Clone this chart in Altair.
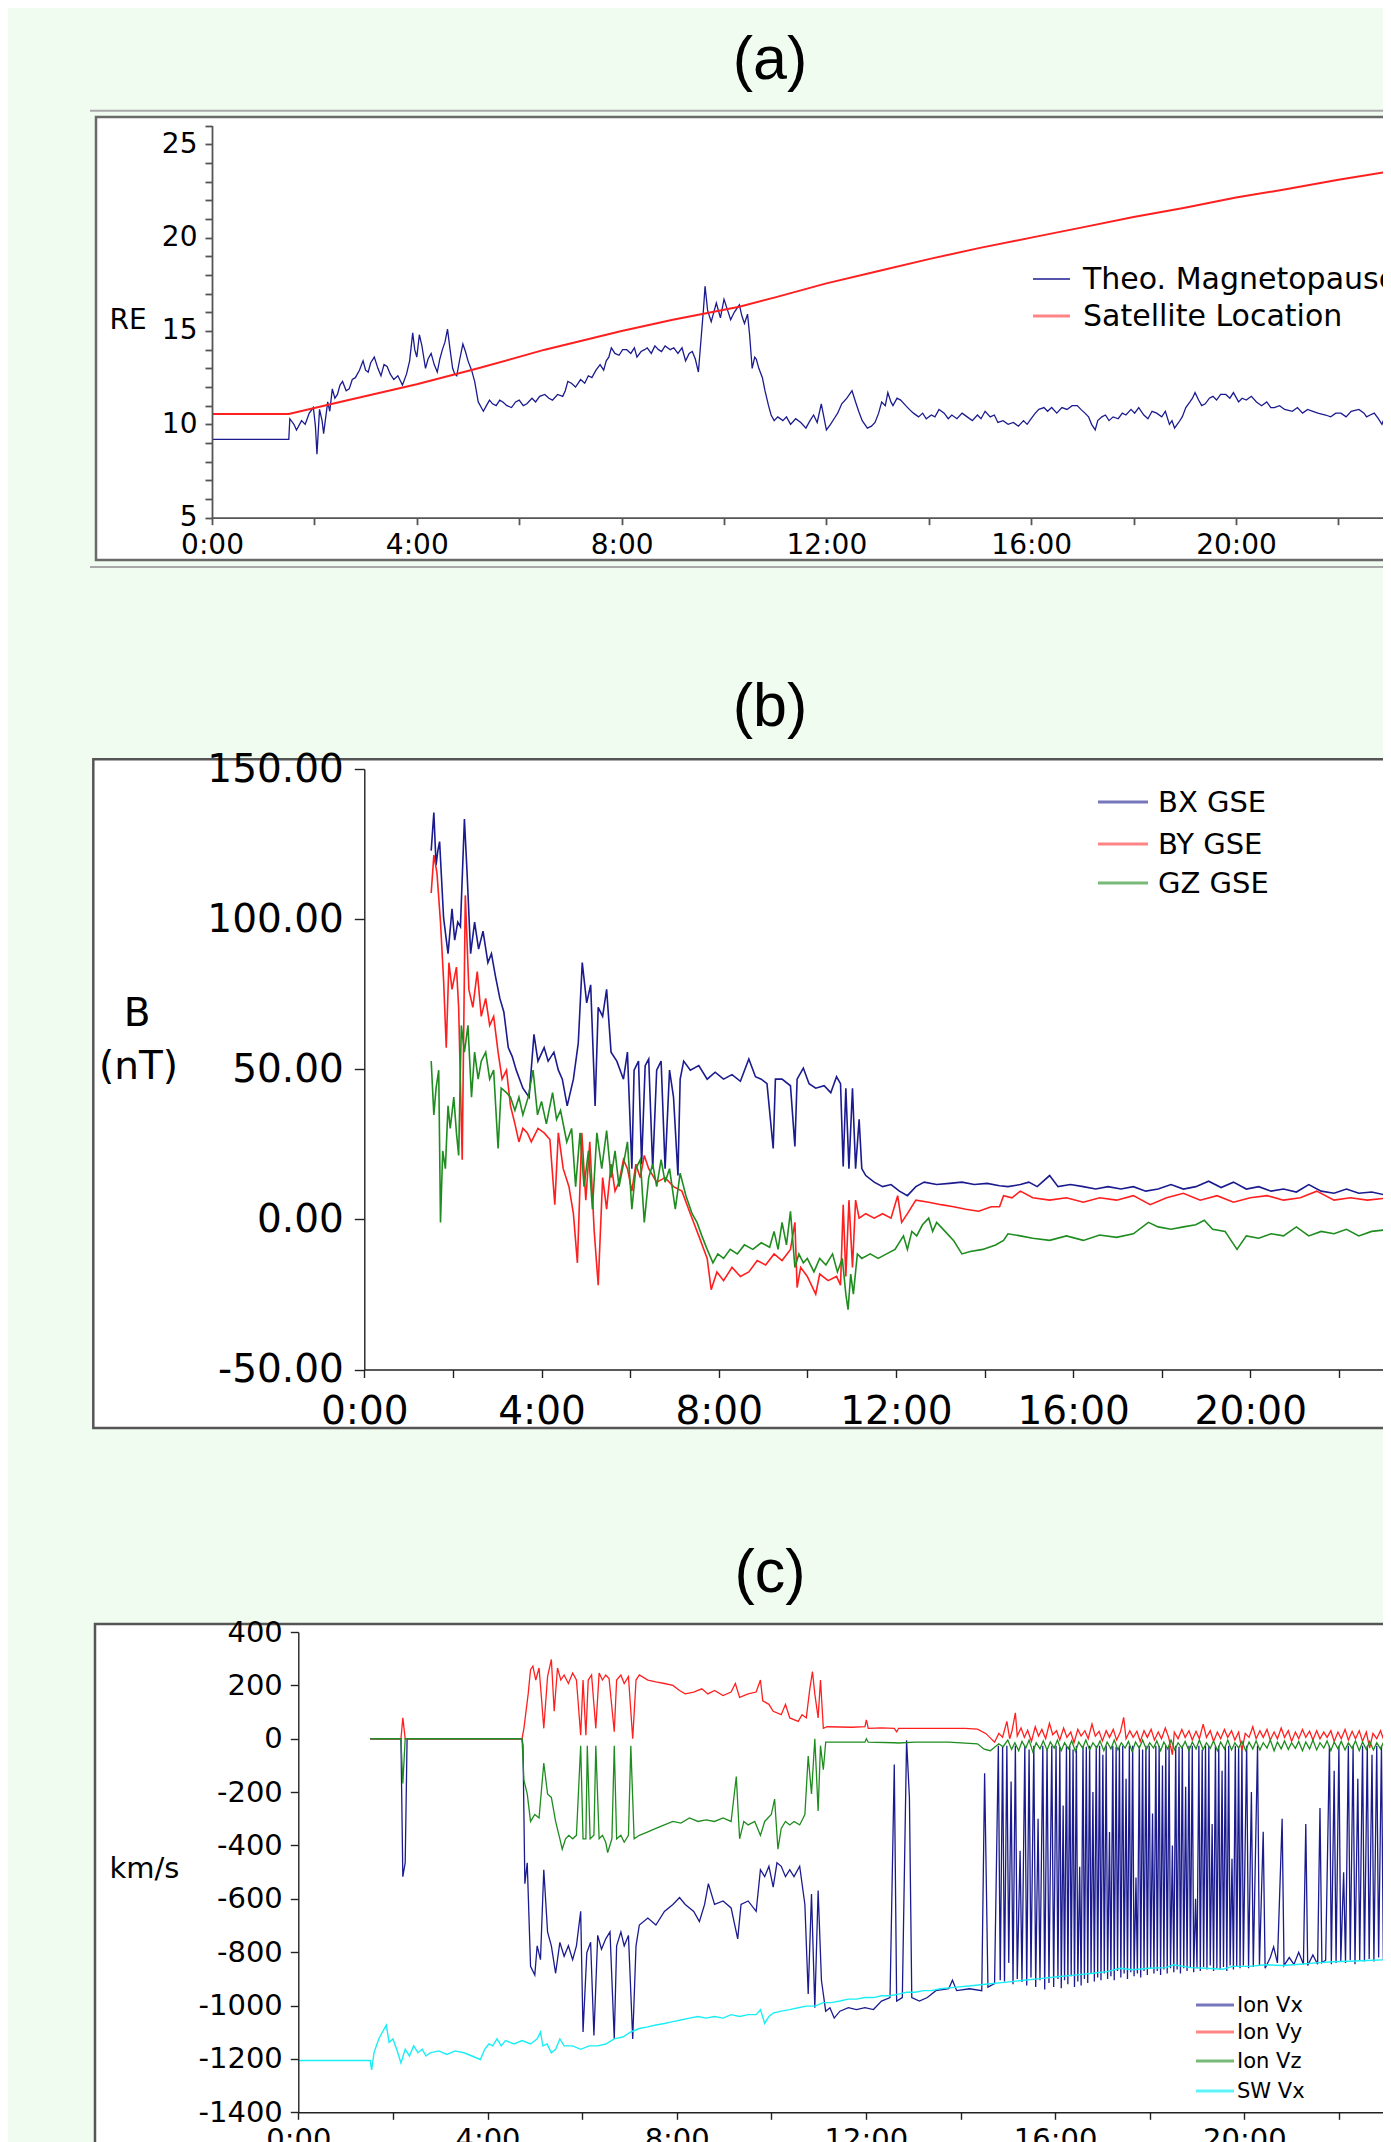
import altair as alt
import pandas as pd

W, H = 1375, 2134
BG = "#f0fcf0"
NAVY = "#1b1b8f"
RED = "#ff1f1f"
GREEN = "#1f8c1f"
CYAN = "#19eef6"
FONT = "DejaVu Sans"

# ---------------- tick values ----------------
X_TICKS = list(range(0, 25, 2))
A_YTICKS = list(range(5, 27))
B_YTICKS = [-50, 0, 50, 100, 150]
C_YTICKS = list(range(-1400, 401, 200))

# ---------------- panel (a): RE vs hours ----------------
A_SAT = [(0, 10.55), (1.5, 10.55), (2.5, 11.2), (4, 12.15), (5.2, 13.0), (6.5, 14.0), (8, 15.0),
         (9, 15.6), (10.3, 16.3), (11, 16.8), (12, 17.55), (13, 18.2), (14, 18.85), (15, 19.45),
         (16, 20.0), (17, 20.55), (18, 21.1), (19, 21.6), (20, 22.15), (21, 22.6), (22, 23.1),
         (23, 23.55), (24, 23.95)]

A_MP = [(0.0, 9.2), (1.5, 9.2), (1.52, 10.3), (1.6, 10.0), (1.65, 9.7), (1.75, 10.2), (1.82, 10.0), (1.9, 10.6),
        (1.98, 10.9), (2.02, 9.9), (2.05, 8.4), (2.1, 10.8), (2.15, 10.2), (2.18, 9.5), (2.26, 11.2), (2.3, 10.7),
        (2.35, 11.9), (2.4, 11.4), (2.45, 11.6), (2.5, 12.1), (2.55, 12.3), (2.62, 11.8), (2.68, 11.9), (2.74, 12.4),
        (2.8, 12.5), (2.88, 12.9), (2.95, 13.4), (3.0, 12.9), (3.05, 12.8), (3.1, 13.3), (3.17, 13.6), (3.24, 13.0),
        (3.3, 12.6), (3.36, 13.2), (3.42, 13.1), (3.48, 12.7), (3.55, 12.4), (3.63, 12.6), (3.72, 12.1), (3.8, 12.7),
        (3.86, 13.4), (3.92, 14.9), (3.96, 14.0), (4.0, 13.6), (4.05, 14.8), (4.1, 14.2), (4.17, 13.0), (4.22, 13.5),
        (4.28, 13.8), (4.34, 13.2), (4.4, 12.8), (4.45, 13.5), (4.5, 14.0), (4.55, 14.4), (4.6, 15.1), (4.65, 14.0),
        (4.7, 13.0), (4.74, 12.7), (4.78, 12.6), (4.84, 13.5), (4.9, 14.3), (4.95, 13.9), (5.0, 13.4), (5.07, 12.9),
        (5.13, 12.3), (5.2, 11.2), (5.26, 10.9), (5.3, 10.7), (5.36, 11.0), (5.42, 11.3), (5.48, 11.1), (5.55, 11.0),
        (5.62, 11.3), (5.68, 11.2), (5.76, 11.0), (5.85, 10.9), (5.93, 11.2), (6.0, 11.3), (6.08, 11.0), (6.15, 11.1),
        (6.25, 11.4), (6.32, 11.2), (6.4, 11.5), (6.5, 11.6), (6.58, 11.4), (6.65, 11.3), (6.75, 11.6), (6.85, 11.5),
        (6.9, 11.8), (6.95, 12.3), (7.02, 12.2), (7.1, 12.0), (7.2, 12.4), (7.28, 12.2), (7.35, 12.6), (7.42, 12.5),
        (7.5, 12.9), (7.58, 13.2), (7.65, 12.9), (7.7, 13.4), (7.75, 13.6), (7.8, 14.1), (7.87, 13.8), (7.95, 13.7),
        (8.02, 14.0), (8.1, 14.0), (8.18, 13.8), (8.25, 14.1), (8.3, 13.6), (8.38, 13.9), (8.45, 14.0), (8.5, 14.1),
        (8.58, 13.8), (8.65, 14.2), (8.72, 14.0), (8.78, 13.9), (8.85, 14.2), (8.95, 14.0), (9.02, 14.1), (9.1, 13.8),
        (9.18, 14.1), (9.25, 13.4), (9.32, 13.8), (9.38, 13.9), (9.44, 13.5), (9.5, 12.8), (9.55, 14.5), (9.6, 16.2),
        (9.63, 17.4), (9.68, 16.1), (9.75, 15.5), (9.8, 16.0), (9.85, 16.5), (9.93, 15.7), (10.0, 16.7), (10.06, 16.2),
        (10.13, 15.6), (10.2, 16.0), (10.3, 16.4), (10.35, 15.8), (10.4, 15.4), (10.46, 15.9), (10.5, 14.8),
        (10.55, 13.0), (10.6, 13.6), (10.63, 13.5), (10.68, 13.0), (10.75, 12.5), (10.8, 11.8), (10.87, 11.0),
        (10.92, 10.5), (10.98, 10.2), (11.05, 10.4), (11.15, 10.2), (11.22, 10.4), (11.3, 10.0), (11.4, 10.3),
        (11.5, 10.1), (11.6, 9.8), (11.68, 10.2), (11.75, 10.5), (11.82, 10.1), (11.9, 11.1), (11.95, 10.4),
        (12.0, 9.7), (12.08, 10.0), (12.15, 10.3), (12.22, 10.6), (12.3, 11.1), (12.4, 11.4), (12.5, 11.8),
        (12.57, 11.2), (12.63, 10.7), (12.7, 10.2), (12.8, 9.8), (12.88, 9.9), (12.95, 10.1), (13.02, 10.6),
        (13.08, 11.2), (13.15, 11.0), (13.2, 11.7), (13.26, 11.2), (13.3, 11.0), (13.38, 11.4), (13.45, 11.3),
        (13.55, 11.0), (13.62, 10.8), (13.7, 10.6), (13.8, 10.4), (13.88, 10.6), (13.95, 10.3), (14.05, 10.5),
        (14.12, 10.4), (14.2, 10.8), (14.3, 10.6), (14.38, 10.3), (14.45, 10.5), (14.55, 10.3), (14.65, 10.6),
        (14.75, 10.4), (14.85, 10.2), (14.95, 10.5), (15.02, 10.3), (15.1, 10.7), (15.2, 10.4), (15.28, 10.5),
        (15.35, 10.1), (15.45, 10.2), (15.55, 10.0), (15.65, 10.1), (15.75, 9.9), (15.85, 10.2), (15.92, 10.0),
        (16.0, 10.3), (16.08, 10.6), (16.15, 10.8), (16.25, 10.9), (16.32, 10.7), (16.4, 10.9), (16.5, 10.6),
        (16.6, 10.9), (16.7, 10.8), (16.8, 11.0), (16.9, 11.0), (16.97, 10.8), (17.05, 10.6), (17.12, 10.4),
        (17.18, 10.0), (17.25, 9.7), (17.3, 10.2), (17.38, 10.4), (17.45, 10.5), (17.52, 10.2), (17.6, 10.4),
        (17.7, 10.3), (17.78, 10.6), (17.85, 10.5), (17.95, 10.8), (18.02, 10.6), (18.1, 10.9), (18.2, 10.5),
        (18.28, 10.3), (18.36, 10.7), (18.45, 10.6), (18.55, 10.4), (18.62, 10.7), (18.7, 10.0), (18.75, 10.2),
        (18.8, 9.8), (18.88, 10.1), (18.95, 10.4), (19.02, 10.9), (19.1, 11.2), (19.15, 11.4), (19.2, 11.7),
        (19.27, 11.3), (19.33, 11.0), (19.4, 11.1), (19.48, 11.4), (19.55, 11.5), (19.62, 11.3), (19.7, 11.6),
        (19.8, 11.6), (19.88, 11.4), (19.95, 11.7), (20.05, 11.2), (20.12, 11.4), (20.2, 11.3), (20.3, 11.5),
        (20.4, 11.2), (20.5, 11.0), (20.6, 11.2), (20.68, 10.9), (20.75, 10.9), (20.85, 11.0), (20.95, 10.8),
        (21.1, 10.7), (21.2, 10.9), (21.3, 10.6), (21.4, 10.8), (21.5, 10.7), (21.6, 10.6), (21.75, 10.5),
        (21.85, 10.4), (21.95, 10.6), (22.05, 10.6), (22.15, 10.4), (22.25, 10.7), (22.4, 10.8), (22.5, 10.6),
        (22.55, 10.4), (22.62, 10.5), (22.7, 10.6), (22.78, 10.3), (22.85, 10.0), (22.92, 10.5), (23.0, 10.8),
        (23.08, 10.6), (23.2, 10.6)]

# ---------------- panel (b): B (nT) ----------------
B_BX = [(1.51, 122.8), (1.57, 135.5), (1.62, 118), (1.66, 122.8), (1.70, 125.8), (1.79, 100.4), (1.89, 88.5),
        (1.98, 103.4), (2.04, 93.0), (2.11, 99), (2.17, 97.5), (2.26, 133.3), (2.32, 115.4), (2.40, 88.5),
        (2.49, 99.0), (2.58, 90.0), (2.68, 96.0), (2.79, 85.5), (2.87, 88.5), (2.96, 81.0), (3.06, 73.6),
        (3.15, 69.1), (3.25, 57.2), (3.34, 54.2), (3.43, 49.7), (3.58, 43.7), (3.72, 40.7), (3.83, 61.6),
        (3.92, 52.7), (4.06, 57.2), (4.15, 52.7), (4.28, 55.7), (4.38, 49.7), (4.47, 46.7), (4.58, 37.8),
        (4.72, 46.7), (4.83, 58.7), (4.92, 85.5), (5.02, 72.1), (5.11, 78.1), (5.21, 37.8), (5.28, 70.6),
        (5.38, 67.6), (5.47, 76.6), (5.57, 55.7), (5.70, 52.7), (5.85, 46.7), (5.94, 55.7), (6.04, 16.9),
        (6.09, 49.7), (6.19, 52.7), (6.26, 18.4), (6.34, 51.2), (6.42, 53.4), (6.51, 16.9), (6.60, 49.7),
        (6.70, 52.7), (6.79, 16.9), (6.89, 49.7), (6.98, 40.7), (7.08, 14.6), (7.13, 46.7), (7.21, 52.7),
        (7.36, 49.7), (7.55, 51.2), (7.74, 46.7), (7.92, 49.0), (8.11, 46.7), (8.30, 48.2), (8.49, 46.0),
        (8.68, 53.4), (8.83, 47.5), (8.96, 46.7), (9.09, 45.2), (9.23, 23.6), (9.28, 46.7), (9.43, 46.7),
        (9.62, 44.5), (9.72, 24.3), (9.77, 46.7), (9.91, 50.4), (10.04, 45.2), (10.19, 43.7), (10.38, 44.5),
        (10.53, 42.2), (10.66, 47.5), (10.75, 45.2), (10.81, 17.6), (10.87, 43.7), (10.94, 16.9), (11.02, 43.7),
        (11.09, 16.9), (11.17, 33.3), (11.23, 16.9), (11.32, 14.6), (11.51, 12.4), (11.70, 10.9), (11.89, 11.6),
        (12.08, 9.4), (12.26, 7.9), (12.45, 10.9), (12.64, 12.4), (12.92, 11.6), (13.21, 12.0), (13.49, 12.4),
        (13.77, 11.6), (14.06, 12.0), (14.34, 11.2), (14.53, 10.9), (14.81, 11.6), (15.0, 12.4), (15.19, 10.9),
        (15.47, 14.6), (15.66, 10.9), (15.94, 11.6), (16.23, 10.9), (16.51, 10.1), (16.79, 10.9), (17.08, 10.1),
        (17.36, 10.9), (17.64, 9.4), (17.92, 10.1), (18.21, 11.6), (18.49, 10.1), (18.77, 10.9), (19.06, 12.7),
        (19.34, 10.6), (19.62, 12.4), (19.91, 10.1), (20.19, 10.9), (20.47, 9.4), (20.75, 10.1), (21.04, 9.1),
        (21.32, 11.6), (21.6, 9.4), (21.89, 8.7), (22.17, 10.1), (22.45, 8.7), (22.74, 9.1), (23.02, 8.2),
        (23.17, 9.1)]

B_BY = [(1.51, 108.7), (1.57, 121.3), (1.64, 115.4), (1.72, 99.0), (1.79, 79.6), (1.85, 57.2), (1.91, 85.5),
        (1.98, 76.6), (2.08, 84.0), (2.13, 70.6), (2.21, 19.9), (2.28, 107.9), (2.36, 76.6), (2.45, 70.6),
        (2.55, 82.5), (2.64, 67.6), (2.74, 73.6), (2.83, 64.6), (2.92, 67.6), (3.02, 55.7), (3.11, 46.7),
        (3.21, 49.7), (3.30, 37.8), (3.40, 31.8), (3.49, 25.8), (3.58, 30.3), (3.68, 28.8), (3.77, 25.8),
        (3.92, 30.3), (4.06, 28.8), (4.19, 26.6), (4.30, 4.9), (4.38, 28.8), (4.49, 16.9), (4.62, 10.9),
        (4.72, 1.9), (4.81, -14.5), (4.91, 28.8), (5.0, 6.4), (5.09, 25.8), (5.19, -4.0), (5.28, -21.9),
        (5.38, 13.9), (5.47, 3.4), (5.57, 18.4), (5.66, 9.4), (5.75, 12.4), (5.85, 19.9), (5.94, 16.9),
        (6.04, 9.4), (6.13, 18.4), (6.23, 13.9), (6.32, 21.3), (6.42, 16.9), (6.60, 12.4), (6.79, 13.9),
        (6.98, 10.9), (7.17, 9.4), (7.36, 1.9), (7.55, -5.5), (7.74, -13.0), (7.83, -23.4), (7.96, -17.5),
        (8.11, -20.4), (8.30, -16.0), (8.49, -19.0), (8.68, -17.5), (8.87, -13.7), (9.06, -15.2), (9.25, -11.5),
        (9.43, -13.7), (9.62, -10.0), (9.72, -1.0), (9.77, -22.7), (9.85, -16.0), (10.0, -19.0), (10.19, -24.9),
        (10.28, -18.2), (10.47, -20.4), (10.66, -19.0), (10.75, -21.9), (10.81, 4.9), (10.87, -19.0),
        (10.94, 6.4), (11.02, -16.0), (11.09, 6.4), (11.17, 0.4), (11.32, 1.9), (11.51, 0.4), (11.70, 1.9),
        (11.89, 0.4), (12.04, 7.9), (12.13, -1.0), (12.26, 1.9), (12.45, 6.4), (12.74, 5.7), (13.02, 4.9),
        (13.30, 4.2), (13.58, 3.4), (13.87, 2.7), (14.15, 4.2), (14.34, 4.2), (14.43, 7.9), (14.62, 7.2),
        (14.81, 9.4), (15.09, 7.2), (15.47, 6.4), (15.85, 7.2), (16.23, 5.7), (16.6, 7.2), (16.98, 6.4),
        (17.36, 7.9), (17.74, 4.9), (18.11, 7.2), (18.49, 8.7), (18.87, 6.4), (19.25, 7.9), (19.62, 5.7),
        (20.0, 7.2), (20.38, 7.9), (20.75, 6.4), (21.13, 7.2), (21.5, 9.4), (21.89, 6.4), (22.26, 7.2),
        (22.64, 6.4), (23.17, 7.2)]

B_GZ = [(1.51, 52.7), (1.57, 34.8), (1.62, 43.7), (1.68, 49.7), (1.72, -1.0), (1.77, 22.8), (1.83, 16.9),
        (1.89, 37.8), (1.94, 30.3), (2.02, 40.7), (2.08, 28.8), (2.13, 21.3), (2.19, 64.6), (2.26, 55.7),
        (2.34, 64.6), (2.42, 40.7), (2.49, 55.7), (2.57, 46.7), (2.64, 52.7), (2.74, 55.7), (2.83, 46.7),
        (2.92, 49.7), (3.02, 23.6), (3.09, 43.7), (3.21, 42.2), (3.30, 40.7), (3.40, 36.3), (3.49, 40.7),
        (3.58, 34.8), (3.70, 40.7), (3.81, 49.7), (3.91, 34.8), (4.0, 39.3), (4.11, 31.8), (4.25, 42.2),
        (4.34, 33.3), (4.43, 36.3), (4.57, 25.8), (4.68, 30.3), (4.77, 10.9), (4.87, 28.8), (4.96, 10.9),
        (5.06, 22.8), (5.15, 3.4), (5.25, 28.8), (5.36, 16.9), (5.47, 29.6), (5.57, 13.9), (5.66, 22.8),
        (5.75, 10.9), (5.85, 18.4), (5.94, 25.8), (6.04, 3.4), (6.13, 16.9), (6.23, 19.9), (6.32, -1.0),
        (6.42, 13.9), (6.51, 18.4), (6.60, 10.9), (6.70, 19.9), (6.79, 12.4), (6.89, 16.9), (7.02, 3.4),
        (7.13, 15.4), (7.26, 7.9), (7.40, 1.9), (7.51, -1.0), (7.62, -5.5), (7.74, -10.0), (7.87, -14.5),
        (7.98, -11.5), (8.11, -13.0), (8.26, -10.0), (8.42, -11.5), (8.58, -8.5), (8.77, -10.0), (8.96, -7.8),
        (9.15, -9.3), (9.25, -4.0), (9.34, -10.0), (9.43, -1.0), (9.53, -8.5), (9.62, 2.7), (9.72, -16.0),
        (9.81, -11.5), (9.91, -14.5), (10.0, -13.0), (10.15, -17.5), (10.28, -13.0), (10.42, -15.2),
        (10.57, -11.5), (10.68, -17.5), (10.79, -13.0), (10.87, -24.9), (10.92, -30.1), (10.98, -18.2),
        (11.04, -24.9), (11.13, -11.5), (11.23, -13.0), (11.42, -11.5), (11.6, -13.0), (11.79, -11.5),
        (11.98, -10.0), (12.17, -5.5), (12.26, -10.0), (12.36, -4.0), (12.47, -5.5), (12.6, -1.8), (12.74, 0.4),
        (12.83, -4.0), (12.92, -1.0), (13.11, -4.0), (13.3, -7.0), (13.49, -11.5), (13.68, -10.7), (13.96, -10.0),
        (14.25, -8.5), (14.43, -7.0), (14.53, -4.8), (14.81, -5.5), (15.09, -6.3), (15.47, -7.0), (15.85, -5.5),
        (16.23, -7.0), (16.6, -5.2), (16.98, -6.0), (17.36, -4.8), (17.7, -1.0), (17.92, -2.5), (18.21, -3.3),
        (18.49, -2.5), (18.77, -1.8), (18.96, -0.3), (19.15, -3.3), (19.43, -4.0), (19.7, -10.0), (19.91, -5.5),
        (20.19, -6.3), (20.47, -4.8), (20.75, -5.5), (21.04, -2.5), (21.32, -5.5), (21.6, -4.0), (21.89, -4.8),
        (22.17, -3.3), (22.45, -5.5), (22.74, -4.0), (23.17, -3.3)]

# ---------------- panel (c): km/s ----------------
C_VX = [(1.52, 0), (2.17, 0), (2.21, -517), (2.26, -465), (2.30, 0), (4.73, 0), (4.75, -26), (4.79, -543),
        (4.84, -465), (4.91, -853), (5.0, -886), (5.05, -776), (5.12, -828), (5.19, -491), (5.27, -724),
        (5.35, -776), (5.44, -879), (5.53, -763), (5.62, -815), (5.71, -776), (5.8, -828), (5.88, -776),
        (5.97, -647), (6.02, -1099), (6.10, -802), (6.18, -763), (6.25, -1112), (6.33, -737), (6.41, -789),
        (6.5, -750), (6.59, -724), (6.68, -1125), (6.73, -776), (6.82, -724), (6.89, -776), (6.98, -737),
        (7.07, -1125), (7.14, -776), (7.21, -698), (7.39, -672), (7.56, -698), (7.74, -647), (7.92, -621),
        (8.06, -595), (8.18, -621), (8.36, -647), (8.48, -685), (8.59, -621), (8.67, -543), (8.8, -621),
        (8.98, -608), (9.15, -634), (9.29, -750), (9.36, -621), (9.51, -608), (9.68, -647), (9.77, -491),
        (9.86, -517), (9.95, -478), (10.04, -556), (10.12, -465), (10.21, -478), (10.3, -517), (10.39, -491),
        (10.48, -517), (10.6, -478), (10.71, -621), (10.78, -957), (10.85, -582), (10.92, -1008), (10.99, -569),
        (11.06, -905), (11.15, -1021), (11.24, -1008), (11.33, -1047), (11.45, -1021), (11.63, -1008),
        (11.8, -1015), (11.98, -1008), (12.16, -1015), (12.33, -983), (12.51, -970), (12.6, -97), (12.65, -983),
        (12.77, -970), (12.86, -6), (12.92, -220), (12.97, -970), (13.13, -983), (13.3, -970), (13.48, -944),
        (13.75, -937), (13.83, -905), (13.92, -944), (14.19, -937), (14.45, -944), (14.51, -129), (14.58, -931),
        (14.72, -918),
        (14.80, -26), (14.84, -905), (14.89, -30), (14.93, -910), (14.98, -26), (15.02, -840), (15.07, -160),
        (15.11, -920), (15.16, -26), (15.20, -900), (15.26, -420), (15.30, -912), (15.36, -26), (15.40, -925),
        (15.45, -40), (15.49, -895), (15.55, -26), (15.59, -930), (15.64, -300), (15.68, -905), (15.74, -26),
        (15.78, -940), (15.83, -35), (15.87, -915), (15.93, -26), (15.97, -930),
        (16.02, -26), (16.06, -900), (16.10, -30), (16.13, -935), (16.17, -250), (16.20, -905), (16.24, -26),
        (16.27, -920), (16.31, -26), (16.34, -890), (16.38, -40), (16.41, -930), (16.45, -26), (16.48, -910),
        (16.52, -480), (16.55, -925), (16.59, -26), (16.62, -900), (16.66, -30), (16.69, -915), (16.73, -26),
        (16.76, -880), (16.80, -200), (16.83, -910), (16.87, -26), (16.90, -895), (16.94, -26), (16.97, -905),
        (17.01, -60), (17.04, -880), (17.08, -26), (17.11, -900), (17.15, -350), (17.18, -890), (17.22, -26),
        (17.25, -905), (17.29, -30), (17.32, -870), (17.36, -26), (17.39, -895), (17.43, -26), (17.46, -880),
        (17.50, -150), (17.53, -900), (17.57, -26), (17.60, -875), (17.64, -26), (17.67, -890), (17.71, -520),
        (17.74, -880), (17.78, -26), (17.81, -895), (17.85, -40), (17.88, -870), (17.92, -26), (17.95, -885),
        (17.99, -26), (18.02, -860), (18.06, -280), (18.09, -880), (18.13, -26), (18.16, -870), (18.20, -26),
        (18.23, -885), (18.27, -100), (18.30, -865), (18.34, -26), (18.37, -880), (18.41, -26), (18.44, -860),
        (18.48, -400), (18.51, -875), (18.55, -26), (18.58, -865), (18.62, -30), (18.65, -880), (18.69, -26),
        (18.72, -860), (18.76, -180), (18.79, -870), (18.83, -26), (18.86, -855), (18.90, -26), (18.93, -875),
        (18.97, -600), (19.00, -860), (19.04, -26), (19.07, -870), (19.11, -40), (19.14, -855), (19.18, -26),
        (19.21, -865), (19.25, -26), (19.28, -850), (19.32, -320), (19.35, -870), (19.39, -26), (19.42, -860),
        (19.46, -26), (19.49, -865), (19.53, -120), (19.56, -855), (19.60, -26), (19.63, -870), (19.67, -26),
        (19.70, -850), (19.74, -450), (19.77, -865), (19.81, -26), (19.84, -855), (19.88, -30), (19.91, -860),
        (19.95, -26), (19.98, -850),
        (20.05, -26), (20.09, -860), (20.15, -200), (20.19, -855), (20.28, -26), (20.32, -850), (20.40, -349),
        (20.44, -860), (20.55, -820), (20.62, -780), (20.70, -840), (20.80, -300), (20.84, -850), (20.95, -820),
        (21.05, -846), (21.15, -800), (21.25, -845), (21.30, -320), (21.34, -850), (21.45, -810), (21.55, -845),
        (21.60, -260), (21.64, -840), (21.72, -830),
        (21.80, -26), (21.84, -845), (21.90, -120), (21.94, -840), (22.00, -26), (22.04, -835), (22.10, -500),
        (22.14, -840), (22.20, -26), (22.24, -830), (22.30, -26), (22.34, -845), (22.40, -150), (22.44, -830),
        (22.50, -26), (22.54, -835), (22.60, -26), (22.64, -825), (22.70, -60), (22.74, -835), (22.80, -26),
        (22.84, -820), (22.90, -26), (22.94, -830), (23.00, -40), (23.04, -825), (23.10, -26), (23.15, -820)]

C_VY = [(1.52, 0), (2.17, 0), (2.21, 78), (2.26, 0), (4.73, 0), (4.77, 39), (4.86, 168), (4.91, 259), (4.96, 272),
        (5.02, 220), (5.09, 265), (5.14, 155), (5.19, 39), (5.27, 233), (5.35, 297), (5.41, 103), (5.48, 265),
        (5.55, 220), (5.62, 239), (5.71, 207), (5.8, 246), (5.88, 220), (5.97, 13), (6.02, 220), (6.08, 13),
        (6.13, 220), (6.2, 239), (6.29, 39), (6.36, 246), (6.43, 220), (6.5, 239), (6.57, 226), (6.68, 26),
        (6.73, 220), (6.82, 239), (6.89, 207), (6.98, 233), (7.07, 0), (7.14, 220), (7.21, 239), (7.39, 220),
        (7.56, 213), (7.74, 207), (7.92, 200), (8.06, 181), (8.18, 168), (8.36, 175), (8.53, 187), (8.66, 168),
        (8.8, 181), (8.98, 162), (9.15, 175), (9.24, 207), (9.33, 155), (9.51, 168), (9.68, 175), (9.77, 220),
        (9.82, 142), (9.95, 129), (10.04, 103), (10.21, 90), (10.3, 129), (10.39, 78), (10.57, 65), (10.65, 90),
        (10.74, 78), (10.81, 181), (10.87, 252), (10.92, 168), (10.99, 78), (11.04, 220), (11.1, 39),
        (11.18, 45), (11.71, 43), (11.98, 45), (12.01, 71), (12.05, 39), (12.33, 41), (12.6, 39), (12.65, 26),
        (12.69, 39), (13.04, 39), (13.39, 39), (13.75, 39), (14.1, 39), (14.36, 36), (14.54, 19), (14.72, -13),
        (14.81, 20), (14.89, 6), (14.98, 65), (15.04, 0), (15.09, 30), (15.16, 97), (15.2, 10), (15.28, 40),
        (15.35, 5), (15.42, 32), (15.5, -10), (15.58, 45), (15.65, 10), (15.72, 35), (15.8, 0), (15.88, 58),
        (15.95, 15), (16.03, 30), (16.1, -5), (16.18, 40), (16.25, 5), (16.33, 25), (16.4, -15), (16.48, 35),
        (16.55, 10), (16.63, 30), (16.7, 0), (16.78, 55), (16.85, 10), (16.93, 28), (17.0, -8), (17.08, 30),
        (17.15, 5), (17.23, 35), (17.3, -5), (17.38, 25), (17.45, 80), (17.5, 0), (17.58, 30), (17.65, 5),
        (17.73, 28), (17.8, -10), (17.88, 30), (17.95, 5), (18.03, 35), (18.1, -5), (18.18, 25), (18.25, 0),
        (18.33, 40), (18.4, 5), (18.48, -60), (18.52, 25), (18.6, 0), (18.68, 35), (18.75, 5), (18.83, 30),
        (18.9, -5), (18.98, 28), (19.05, 0), (19.13, 55), (19.2, 5), (19.28, 30), (19.35, -10), (19.43, 25),
        (19.5, 0), (19.58, 35), (19.65, 5), (19.73, 30), (19.8, -5), (19.88, 25), (19.95, -45), (20.02, 20),
        (20.1, 5), (20.18, 45), (20.25, 0), (20.33, 30), (20.4, 5), (20.48, 35), (20.55, -5), (20.63, 25),
        (20.7, 0), (20.78, 40), (20.85, 5), (20.93, 30), (21.0, -10), (21.08, 25), (21.15, 0), (21.23, 35),
        (21.3, 5), (21.38, 28), (21.45, -5), (21.53, 30), (21.6, 0), (21.68, 25), (21.75, 5), (21.83, 30),
        (21.9, -10), (21.98, 25), (22.05, 0), (22.13, 35), (22.2, -5), (22.28, 28), (22.35, 0), (22.43, 30),
        (22.5, -10), (22.58, 25), (22.65, -35), (22.72, 20), (22.8, 0), (22.88, 30), (22.95, -5), (23.03, 20),
        (23.1, -10), (23.15, 15)]

C_VZ = [(1.52, 0), (2.17, 0), (2.21, -168), (2.26, 0), (4.73, 0), (4.77, -155), (4.84, -207), (4.91, -310),
        (5.0, -284), (5.09, -297), (5.19, -91), (5.27, -207), (5.35, -220), (5.44, -310), (5.53, -375),
        (5.58, -414), (5.65, -375), (5.72, -362), (5.8, -375), (5.88, -362), (5.97, -26), (6.02, -375),
        (6.08, -375), (6.11, -26), (6.17, -375), (6.25, -362), (6.29, -26), (6.36, -375), (6.43, -362),
        (6.5, -388), (6.54, -427), (6.63, -375), (6.68, -26), (6.73, -375), (6.82, -362), (6.89, -388),
        (6.98, -362), (7.03, -26), (7.1, -375), (7.21, -362), (7.39, -349), (7.56, -336), (7.74, -323),
        (7.92, -310), (8.09, -316), (8.27, -297), (8.45, -310), (8.62, -304), (8.8, -310), (8.98, -297),
        (9.15, -310), (9.26, -142), (9.33, -375), (9.42, -310), (9.51, -323), (9.65, -310), (9.77, -362),
        (9.86, -310), (10.0, -284), (10.07, -226), (10.14, -414), (10.21, -336), (10.3, -310), (10.39, -323),
        (10.48, -310), (10.6, -323), (10.71, -284), (10.78, -65), (10.85, -207), (10.92, 0), (10.99, -271),
        (11.04, -26), (11.1, -116), (11.15, -13), (11.27, -13), (11.98, -13), (12.01, 0), (12.05, -13),
        (12.6, -15), (12.69, -16), (13.04, -13), (13.75, -13), (14.36, -19), (14.5, -39), (14.63, -45),
        (14.81, -19), (14.9, -30), (15.0, -5), (15.08, -40), (15.15, -15), (15.23, -45), (15.3, -10),
        (15.38, -35), (15.45, -5), (15.53, -50), (15.6, -15), (15.68, -38), (15.75, -8), (15.83, -42),
        (15.9, -12), (15.98, -35), (16.05, -5), (16.13, -45), (16.2, -15), (16.28, -38), (16.35, -8),
        (16.43, -48), (16.5, -12), (16.58, -35), (16.65, -5), (16.73, -42), (16.8, -15), (16.88, -35),
        (16.95, -8), (17.03, -45), (17.1, -12), (17.18, -38), (17.25, -5), (17.33, -42), (17.4, -15),
        (17.48, -35), (17.55, -10), (17.63, -48), (17.7, -12), (17.78, -36), (17.85, -5), (17.93, -40),
        (18.0, -15), (18.08, -35), (18.15, -8), (18.23, -45), (18.3, -12), (18.38, -38), (18.45, -5),
        (18.53, -42), (18.6, -15), (18.68, -35), (18.75, -10), (18.83, -45), (18.9, -12), (18.98, -38),
        (19.05, -5), (19.13, -40), (19.2, -15), (19.28, -36), (19.35, -8), (19.43, -45), (19.5, -12),
        (19.58, -38), (19.65, -5), (19.73, -42), (19.8, -15), (19.88, -35), (19.95, -10), (20.03, -45),
        (20.1, -12), (20.18, -38), (20.25, -8), (20.33, -42), (20.4, -15), (20.48, -35), (20.55, -5),
        (20.63, -45), (20.7, -12), (20.78, -38), (20.85, -8), (20.93, -40), (21.0, -15), (21.08, -36),
        (21.15, -10), (21.23, -45), (21.3, -12), (21.38, -38), (21.45, -5), (21.53, -42), (21.6, -15),
        (21.68, -35), (21.75, -8), (21.83, -45), (21.9, -12), (21.98, -38), (22.05, -10), (22.13, -42),
        (22.2, -15), (22.28, -36), (22.35, -8), (22.43, -45), (22.5, -12), (22.58, -40), (22.65, -10),
        (22.73, -42), (22.8, -15), (22.88, -38), (22.95, -10), (23.03, -45), (23.1, -15), (23.15, -30)]

C_SW = [(0, -1206), (1.52, -1206), (1.55, -1241), (1.6, -1177), (1.7, -1125), (1.78, -1099), (1.86, -1073),
        (1.92, -1138), (2.0, -1125), (2.08, -1164), (2.17, -1215), (2.26, -1164), (2.35, -1189), (2.44, -1151),
        (2.53, -1177), (2.62, -1164), (2.7, -1189), (2.79, -1177), (2.97, -1170), (3.14, -1183), (3.32, -1170),
        (3.5, -1177), (3.67, -1189), (3.85, -1202), (3.94, -1164), (4.03, -1144), (4.11, -1151), (4.2, -1125),
        (4.29, -1151), (4.38, -1131), (4.56, -1144), (4.73, -1131), (4.91, -1144), (5.05, -1125), (5.12, -1099),
        (5.17, -1151), (5.26, -1144), (5.35, -1177), (5.44, -1164), (5.53, -1125), (5.62, -1151), (5.8, -1151),
        (5.97, -1164), (6.15, -1151), (6.33, -1151), (6.5, -1144), (6.68, -1125), (6.86, -1118), (7.03, -1099),
        (7.21, -1086), (7.39, -1080), (7.56, -1073), (7.74, -1067), (7.92, -1060), (8.09, -1054), (8.27, -1047),
        (8.45, -1041), (8.62, -1047), (8.8, -1041), (8.98, -1047), (9.15, -1034), (9.33, -1041), (9.51, -1034),
        (9.68, -1034), (9.77, -1015), (9.86, -1067), (9.95, -1041), (10.04, -1028), (10.21, -1021),
        (10.39, -1015), (10.57, -1008), (10.74, -1002), (10.92, -1002), (11.1, -989), (11.27, -989),
        (11.45, -983), (11.63, -976), (11.8, -976), (11.98, -970), (12.16, -970), (12.33, -963), (12.51, -963),
        (12.69, -957), (12.86, -950), (13.04, -950), (13.22, -944), (13.39, -944), (13.57, -937), (13.92, -931),
        (14.28, -925), (14.63, -918), (14.98, -912), (15.34, -905), (15.69, -899), (16.05, -892), (16.4, -886),
        (16.75, -880), (17.1, -873), (17.37, -860), (17.63, -866), (17.99, -860), (18.34, -858), (18.5, -847),
        (18.87, -858), (19.2, -860), (19.55, -864), (19.75, -853), (20.1, -853), (20.46, -847), (20.81, -850),
        (21.17, -845), (21.52, -840), (21.87, -836), (22.22, -834), (22.58, -831), (23.07, -828)]

LEG_A = ["Theo. Magnetopause", "Satellite Location"]
LEG_B = ["BX GSE", "BY GSE", "GZ GSE"]
LEG_C = ["Ion Vx", "Ion Vy", "Ion Vz", "SW Vx"]


def frame(pairs):
    return pd.DataFrame(pairs, columns=["t", "v"])


DUMMY = pd.DataFrame({"d": [0]})


def text(s, x, y, size, font=FONT, align="left"):
    return alt.Chart(DUMMY).mark_text(text=s, font=font, fontSize=size, align=align,
                                      baseline="middle", color="#000000").encode(
        x=alt.value(x), y=alt.value(y))


def hrule(x1, x2, y, color, w, opacity=1.0):
    return alt.Chart(DUMMY).mark_rule(color=color, strokeWidth=w, opacity=opacity).encode(
        x=alt.value(x1), x2=alt.value(x2), y=alt.value(y))


def box(x1, x2, y1, y2, stroke, w):
    return alt.Chart(DUMMY).mark_rect(fill="#ffffff", stroke=stroke, strokeWidth=w).encode(
        x=alt.value(x1), x2=alt.value(x2), y=alt.value(y1), y2=alt.value(y2))


def scale(domain, rng):
    return alt.Scale(domain=domain, range=rng, nice=False, zero=False)


def xaxis(offset, fs, ts, pad, color, dw):
    return alt.Axis(orient="bottom", offset=offset, values=X_TICKS,
                    labelExpr="datum.value % 4 == 0 && datum.value < 24 ? datum.value + ':00' : ''",
                    labelFont=FONT, labelFontSize=fs, labelColor="#000000", labelPadding=pad,
                    labelFlush=False, labelOverlap=False, tickSize=ts, tickColor=color, tickWidth=dw,
                    domainColor=color, domainWidth=dw, grid=False, title=None, zindex=3)


def yaxis(offset, values, expr, fs, ts, pad, color, dw):
    return alt.Axis(orient="left", offset=offset, values=values, labelExpr=expr,
                    labelFont=FONT, labelFontSize=fs, labelColor="#000000", labelPadding=pad,
                    labelFlush=False, labelOverlap=False, tickSize=ts, tickColor=color, tickWidth=dw,
                    domainColor=color, domainWidth=dw, grid=False, title=None, zindex=3)


def line(pairs, color, width, xs, ys, xax=None, yax=None):
    return alt.Chart(frame(pairs)).mark_line(color=color, strokeWidth=width).encode(
        x=alt.X("t:Q", scale=xs, axis=xax),
        y=alt.Y("v:Q", scale=ys, axis=yax),
        order="t:Q")


# ---------------- scales (pixel ranges in chart coordinates) ----------------
XA = [0, 24], [204, 1432.8]
YA = [5, 26], [509.7, 117.6]
XB = [0, 24], [356.3, 1419.5]
YB = [-50, 150], [1361.5, 761]
XC = [0, 24], [290.3, 1425.5]
YC = [-1400, 400], [2104.3, 1624]

layers = []

# panel (a)
layers += [
    text("(a)", 762, 53, 61, font="Liberation Sans", align="center"),
    hrule(82, 1400, 102.7, "#a8a8a8", 2),
    hrule(82, 1400, 559, "#a8a8a8", 2),
    box(88, 1420, 109, 552, "#6a6a6a", 2.5),
    line(A_MP, NAVY, 1.3, scale(*XA), scale(*YA),
         xax=xaxis(509.7 - H, 28, 7, 7, "#555555", 1.8),
         yax=yaxis(-204, A_YTICKS, "datum.value % 5 == 0 ? '' + datum.value : ''", 28, 7, 8, "#555555", 1.8)),
    line(A_SAT, RED, 2, scale(*XA), scale(*YA)),
    text("RE", 120, 313, 28, align="center"),
    hrule(1025, 1062, 271, NAVY, 2, 0.75),
    hrule(1025, 1062, 308, RED, 3, 0.55),
    text(LEG_A[0], 1075, 272, 30),
    text(LEG_A[1], 1075, 309, 30),
]

# panel (b)
layers += [
    text("(b)", 762, 700, 61, font="Liberation Sans", align="center"),
    box(85.3, 1420, 751.3, 1420, "#555555", 2.5),
    line(B_BX, NAVY, 1.6, scale(*XB), scale(*YB),
         xax=xaxis(1361.5 - H, 39, 8, 15, "#222222", 1.4),
         yax=yaxis(-356.3, B_YTICKS, "(datum.value < 0 ? '-' : '') + format(abs(datum.value), '.2f')",
                   39, 10, 11, "#222222", 1.4)),
    line(B_BY, RED, 1.6, scale(*XB), scale(*YB)),
    line(B_GZ, GREEN, 1.6, scale(*XB), scale(*YB)),
    text("B", 129, 1006, 39, align="center"),
    text("(nT)", 130.5, 1059, 39, align="center"),
    hrule(1090, 1140, 794, NAVY, 3, 0.6),
    hrule(1090, 1140, 836, RED, 3, 0.55),
    hrule(1090, 1140, 875, GREEN, 3, 0.6),
    text(LEG_B[0], 1150, 795, 29),
    text(LEG_B[1], 1150, 837, 29),
    text(LEG_B[2], 1150, 876, 29),
]

# panel (c)
layers += [
    text("(c)", 762, 1566, 61, font="Liberation Sans", align="center"),
    box(87, 1420, 1616, 2300, "#555555", 2.5),
    line(C_VX, NAVY, 1.3, scale(*XC), scale(*YC),
         xax=xaxis(2104.3 - H, 29, 7, 6, "#222222", 1.4),
         yax=yaxis(-290.3, C_YTICKS, "(datum.value < 0 ? '-' : '') + abs(datum.value)",
                   29, 8, 8, "#222222", 1.4)),
    line(C_VY, RED, 1.3, scale(*XC), scale(*YC)),
    line(C_VZ, GREEN, 1.3, scale(*XC), scale(*YC)),
    line(C_SW, CYAN, 1.4, scale(*XC), scale(*YC)),
    text("km/s", 136.5, 1861, 29, align="center"),
    hrule(1188, 1226, 1997, NAVY, 3, 0.6),
    hrule(1188, 1226, 2024, RED, 3, 0.55),
    hrule(1188, 1226, 2053, GREEN, 3, 0.6),
    hrule(1188, 1226, 2083, CYAN, 3, 0.7),
    text(LEG_C[0], 1229, 1998, 21),
    text(LEG_C[1], 1229, 2025, 21),
    text(LEG_C[2], 1229, 2054, 21),
    text(LEG_C[3], 1229, 2084, 21),
]

chart = alt.layer(*layers).resolve_scale(x="independent", y="independent").properties(
    width=W, height=H, padding=0, background=BG,
    autosize=alt.AutoSizeParams(type="none"),
).configure_view(strokeWidth=0)

chart.save("out.html", embed_options={"renderer": "svg", "actions": False})
